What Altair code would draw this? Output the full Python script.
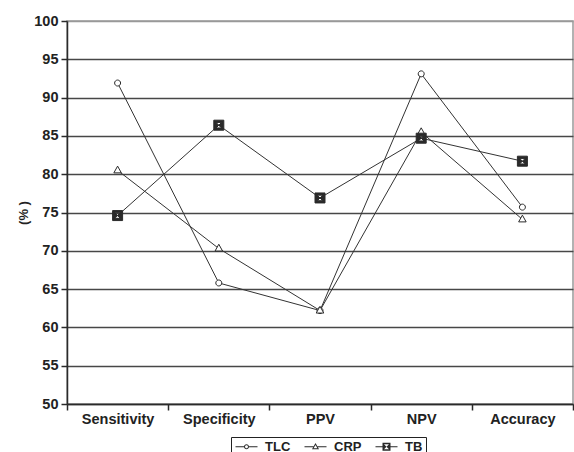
import altair as alt
import pandas as pd

categories = ["Sensitivity", "Specificity", "PPV", "NPV", "Accuracy"]
series_names = ["TLC", "CRP", "TB"]
tlc = [91.9, 65.8, 62.2, 93.1, 75.7]
crp = [80.5, 70.3, 62.2, 85.5, 74.1]
tb = [74.6, 86.4, 76.9, 84.7, 81.7]
y_ticks = [50, 55, 60, 65, 70, 75, 80, 85, 90, 95, 100]

rows = []
for name, vals in zip(series_names, [tlc, crp, tb]):
    for c, v in zip(categories, vals):
        rows.append({"category": c, "series": name, "value": v})
df = pd.DataFrame(rows)

FONT = "Liberation Sans"
INK = "#2a2a2a"

# marker shapes for the data points
pt_shapes = [
    "M-0.6,0A0.6,0.6 0 1,0 0.6,0A0.6,0.6 0 1,0 -0.6,0Z",
    "M0,-0.85L0.75,0.5L-0.75,0.5Z",
    "M-1,-1L1,-1L1,1L-1,1Z M-0.55,-0.55L0,0L0.55,-0.55Z M-0.55,0.55L0.55,0.55L0,0Z",
]
# legend glyphs (fill only): short line with the marker in its middle
lg_shapes = [
    "M-1,-0.1L0.7,-0.1L0.7,0.1L-1,0.1Z "
    "M0.7,0A0.5,0.5 0 1,1 1.7,0A0.5,0.5 0 1,1 0.7,0Z "
    "M0.9,0A0.3,0.3 0 1,0 1.5,0A0.3,0.3 0 1,0 0.9,0Z "
    "M1.7,-0.1L3.4,-0.1L3.4,0.1L1.7,0.1Z",
    "M-1,-0.1L0.8,-0.1L0.8,0.1L-1,0.1Z "
    "M1.2,-0.75L1.9,0.5L0.5,0.5Z "
    "M1.2,-0.375L0.815,0.312L1.585,0.312Z "
    "M1.6,-0.1L3.4,-0.1L3.4,0.1L1.6,0.1Z",
    "M-1,-0.1L0.4,-0.1L0.4,0.1L-1,0.1Z "
    "M0.4,-0.8L2.0,-0.8L2.0,0.8L0.4,0.8Z "
    "M0.7,-0.5L1.2,0L1.7,-0.5Z M0.7,0.5L1.7,0.5L1.2,0Z "
    "M2.0,-0.1L3.4,-0.1L3.4,0.1L2.0,0.1Z",
]
fills = ["white", "white", INK]

x_enc = alt.X(
    "category:N",
    sort=categories,
    scale=alt.Scale(type="band", paddingInner=0, paddingOuter=0),
    axis=alt.Axis(
        title=None, labelAngle=0, tickBand="extent", tickSize=6, tickColor=INK,
        tickWidth=1.5, domainColor=INK, domainWidth=1.5, labelFont=FONT,
        labelFontSize=14.5, labelFontWeight="bold", labelColor="#222",
        labelPadding=2, grid=False,
    ),
)
y_enc = alt.Y(
    "value:Q",
    scale=alt.Scale(domain=[50, 100], nice=False, zero=False),
    axis=alt.Axis(
        values=y_ticks, title="(% )", titleFont=FONT, titleFontSize=13,
        titleFontWeight="bold", titleColor="#222", titlePadding=3,
        labelFont=FONT, labelFontSize=14.5, labelFontWeight="bold",
        labelColor="#222", labelPadding=3, tickSize=6, tickColor=INK,
        tickWidth=1.5, domainColor=INK, domainWidth=1.5, grid=True,
        gridColor={"condition": {"test": "datum.value === 100", "value": "#999"}, "value": "#474747"},
        gridWidth=1.6,
    ),
)

lines = alt.Chart(df).mark_line(color="#333", strokeWidth=1).encode(
    x=x_enc, y=y_enc, detail="series:N"
)

points = alt.Chart(df).mark_point(filled=True, stroke=INK, strokeWidth=1, size=100, opacity=1).encode(
    x=x_enc,
    y=y_enc,
    shape=alt.Shape("series:N", scale=alt.Scale(domain=series_names, range=pt_shapes), legend=None),
    fill=alt.Fill("series:N", scale=alt.Scale(domain=series_names, range=fills), legend=None),
)

legend_layer = alt.Chart(df).transform_filter("false").mark_point(
    filled=True, color=INK, strokeWidth=0, opacity=1
).encode(
    x=x_enc,
    y=y_enc,
    shape=alt.Shape(
        "series:N",
        scale=alt.Scale(domain=series_names, range=lg_shapes),
        legend=alt.Legend(
            title=None, orient="none", legendX=164, legendY=416, direction="horizontal",
            strokeColor="#222", padding=3, symbolSize=100, symbolFillColor=INK,
            symbolStrokeWidth=0, symbolOpacity=1, labelFont=FONT, labelFontSize=13,
            labelFontWeight="bold", labelColor="#222", labelOffset=18, columnPadding=12,
        ),
    ),
)

chart = (
    alt.layer(lines, points, legend_layer)
    .resolve_scale(shape="independent")
    .properties(
        width=506, height=383,
        autosize=alt.AutoSizeParams(type="none"),
        padding={"left": 67, "top": 21, "right": 1, "bottom": 48},
        background="white",
    )
    .configure_view(stroke="#999", strokeWidth=1.5)
)

chart.save("out.html", embed_options={"renderer": "svg", "actions": False})
